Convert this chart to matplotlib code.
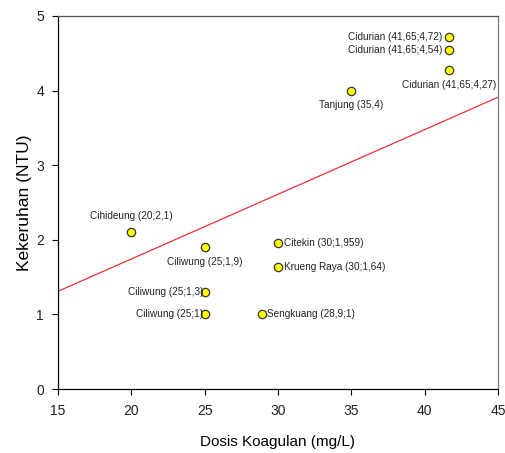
import matplotlib
matplotlib.use('Agg')
import matplotlib.pyplot as plt

plt.rcParams['font.family'] = ['Liberation Sans', 'DejaVu Sans']

# data
dosis = [20, 25, 25, 25, 28.9, 30, 30, 35, 41.65, 41.65, 41.65]
kekeruhan = [2.1, 1.9, 1.3, 1.0, 1.0, 1.959, 1.64, 4.0, 4.72, 4.54, 4.27]
label = ['Cihideung (20;2,1)', 'Ciliwung (25;1,9)', 'Ciliwung (25;1,3)',
         'Ciliwung (25;1)', 'Sengkuang (28,9;1)', 'Citekin (30;1,959)',
         'Krueng Raya (30;1,64)', 'Tanjung (35,4)', 'Cidurian (41,65;4,72)',
         'Cidurian (41,65;4,54)', 'Cidurian (41,65;4,27)']
# posisi label: atas, bawah, kiri, kanan
posisi = ['atas', 'bawah', 'kiri', 'kiri', 'kanan', 'kanan', 'kanan',
          'bawah', 'kiri', 'kiri', 'bawah']

garis_x = [15, 45]
garis_y = [1.31, 3.91]

fig = plt.figure(figsize=(5.06, 4.53), dpi=100)
ax = fig.add_axes([0.1146, 0.141, 0.8696, 0.824])

ax.plot(garis_x, garis_y, color='#e8303a', linewidth=0.9, zorder=2)
ax.scatter(dosis, kekeruhan, s=36, facecolor='#ffff00', edgecolor='#333333',
           linewidth=0.9, zorder=3)

offset = {'atas': (0, 8, 'center', 'bottom'),
          'bawah': (0, -7, 'center', 'top'),
          'kiri': (-5, 0, 'right', 'center'),
          'kanan': (4, 0, 'left', 'center')}
for x, y, teks, pos in zip(dosis, kekeruhan, label, posisi):
    dx, dy, ha, va = offset[pos]
    if teks.startswith('Ciliwung (25;1') and pos == 'kiri':
        dx = -1
    ax.annotate(teks, (x, y), xytext=(dx, dy), textcoords='offset points',
                ha=ha, va=va, fontsize=7.2, color='#222222', zorder=4)

ax.set_xlim(15, 45)
ax.set_ylim(0, 5)
ax.set_xticks(range(15, 46, 5))
ax.set_yticks(range(0, 6))
ax.tick_params(direction='out', length=4, width=0.8, labelsize=10,
               labelcolor='#222222')
ax.tick_params(axis='x', pad=7)
ax.tick_params(axis='y', pad=6)
for s in ax.spines.values():
    s.set_linewidth(0.9)
ax.spines['right'].set_color('#777777')
ax.spines['top'].set_color('#555555')

ax.set_xlabel('Dosis Koagulan (mg/L)', fontsize=11, labelpad=12)
ax.set_ylabel('Kekeruhan (NTU)', fontsize=12.5, labelpad=3)

fig.savefig('out.png', dpi=100)
